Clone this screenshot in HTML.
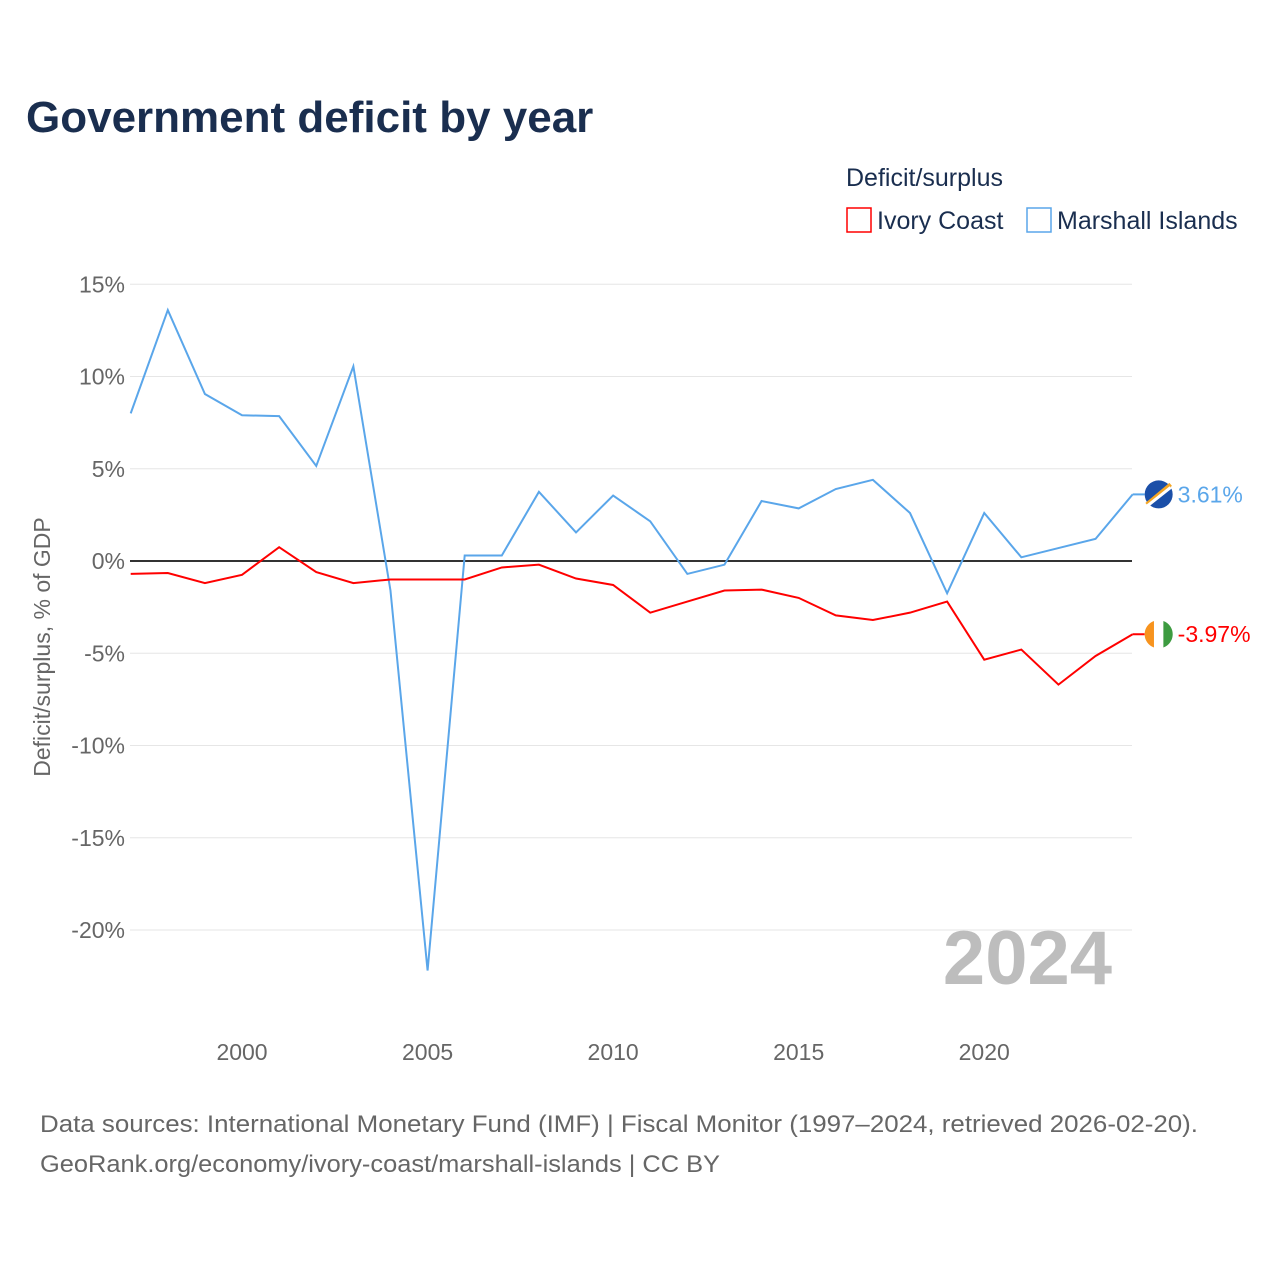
<!DOCTYPE html>
<html><head><meta charset="utf-8"><style>
body{margin:0;background:#fff;font-family:"Liberation Sans",sans-serif;}
svg text{font-family:"Liberation Sans",sans-serif;}
</style></head><body>
<svg id="chart" width="1280" height="1280" xmlns="http://www.w3.org/2000/svg">
<text x="26" y="132" font-size="44" font-weight="bold" fill="#1a2e4f">Government deficit by year</text>
<text x="846" y="186" font-size="25" fill="#1a2e4f">Deficit/surplus</text>
<g><rect x="847" y="208" width="24" height="24" fill="none" stroke="#ff0000" stroke-width="1.5"/><text x="877" y="229" font-size="25" fill="#1a2e4f">Ivory Coast</text></g>
<g><rect x="1027" y="208" width="24" height="24" fill="none" stroke="#5aa6ea" stroke-width="1.5"/><text x="1057" y="229" font-size="25" fill="#1a2e4f">Marshall Islands</text></g>
<g id="grid"></g><g id="yticks"></g><g id="xticks"></g>
<line x1="130" y1="561" x2="1132" y2="561" stroke="#333" stroke-width="2"/>
<text transform="translate(50,647) rotate(-90)" text-anchor="middle" font-size="23" fill="#666">Deficit/surplus, % of GDP</text>
<text x="1112" y="984" text-anchor="end" font-size="76" font-weight="bold" fill="#bdbdbd">2024</text>
<g id="series"></g>
<text x="40" y="1132" font-size="24" fill="#666" textLength="1158" lengthAdjust="spacingAndGlyphs">Data sources: International Monetary Fund (IMF) | Fiscal Monitor (1997–2024, retrieved 2026-02-20).</text>
<text x="40" y="1172" font-size="24" fill="#666" textLength="680" lengthAdjust="spacingAndGlyphs">GeoRank.org/economy/ivory-coast/marshall-islands | CC BY</text>
</svg>
<script>
const years=[1997,1998,1999,2000,2001,2002,2003,2004,2005,2006,2007,2008,2009,2010,2011,2012,2013,2014,2015,2016,2017,2018,2019,2020,2021,2022,2023,2024];
const marshall=[8.0,13.6,9.05,7.9,7.85,5.15,10.55,-1.6,-22.2,0.3,0.3,3.75,1.55,3.55,2.15,-0.7,-0.2,3.25,2.85,3.9,4.4,2.6,-1.75,2.6,0.2,0.7,1.2,3.61];
const ivory=[-0.7,-0.65,-1.2,-0.75,0.75,-0.6,-1.2,-1.0,-1.0,-1.0,-0.35,-0.2,-0.95,-1.3,-2.8,-2.2,-1.6,-1.55,-2.0,-2.95,-3.2,-2.8,-2.2,-5.35,-4.8,-6.7,-5.15,-3.97];
const yTicks=[15,10,5,0,-5,-10,-15,-20];
const xTicks=[2000,2005,2010,2015,2020];
const NS="http://www.w3.org/2000/svg";
const X=v=>130.7+(v-1997)*37.11;
const Y=v=>561-v*18.45;
function mk(t,a,p){const e=document.createElementNS(NS,t);for(const k in a)e.setAttribute(k,a[k]);p.appendChild(e);return e;}
const grid=document.getElementById('grid'),yt=document.getElementById('yticks'),xt=document.getElementById('xticks'),ser=document.getElementById('series');
yTicks.forEach(v=>{
 const l=mk('line',{x1:130,x2:1132,y1:Y(v),y2:Y(v),stroke:'#e6e6e6','stroke-width':1},grid);
 
 
 const t=mk('text',{x:125,y:Y(v)+8,'text-anchor':'end','font-size':23,fill:'#666'},yt);
 t.textContent=v+'%';
 
 
});
xTicks.forEach(v=>{
 const t=mk('text',{x:X(v),y:1060,'text-anchor':'middle','font-size':23,fill:'#666'},xt);
 t.textContent=v;
 
 
});
function line(vals,color,name){
 const p=mk('polyline',{points:vals.map((v,i)=>X(years[i])+','+Y(v)).join(' '),fill:'none',stroke:color,'stroke-width':2},ser);
 
 
}
line(marshall,'#5aa6ea','line-marshall-islands');
line(ivory,'#ff0000','line-ivory-coast');
function endLabel(vals,color,name,flag){
 const v=vals[vals.length-1],x=X(2024),y=Y(v);
 mk('line',{x1:x,x2:x+12,y1:y,y2:y,stroke:color,'stroke-width':2},ser);
 const g=mk('g',{},ser);
 
 
 const cx=x+26;
 if(flag==='mh'){
  mk('circle',{cx:cx,cy:y,r:14,fill:'#1b4fa8'},g);
  mk('line',{x1:cx-12,y1:y+10,x2:cx+12,y2:y-10,stroke:'#f5a623','stroke-width':4},g);
  mk('line',{x1:cx-12,y1:y+12,x2:cx+12,y2:y-7,stroke:'#fff','stroke-width':3},g);
 }else{
  mk('circle',{cx:cx,cy:y,r:14,fill:'#fff'},g);
  mk('path',{d:`M${cx-4.7},${y-13.2} A14,14 0 0,0 ${cx-4.7},${y+13.2} Z`,fill:'#f7931e'},g);
  mk('path',{d:`M${cx+4.7},${y-13.2} A14,14 0 0,1 ${cx+4.7},${y+13.2} Z`,fill:'#3d9b40'},g);
 }
 const t=mk('text',{x:x+45,y:y+8,'font-size':23,fill:color},ser);
 t.textContent=v.toFixed(2)+'%';
 
 
}
endLabel(marshall,'#5aa6ea','marshall-islands','mh');
endLabel(ivory,'#ff0000','ivory-coast','ci');
</script>
</body></html>
